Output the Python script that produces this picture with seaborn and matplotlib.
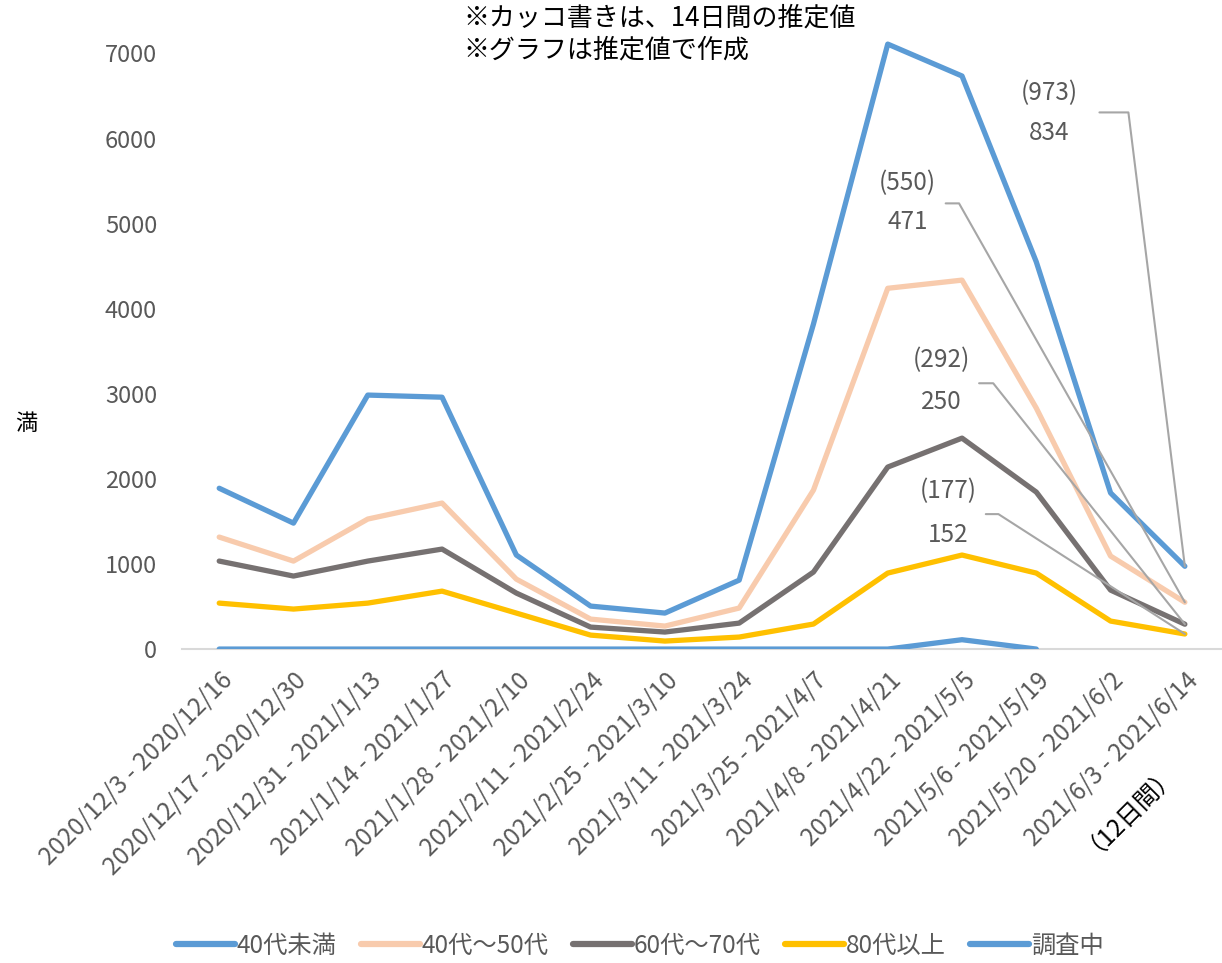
import pandas as pd
import matplotlib.pyplot as plt
import seaborn as sns

# period labels (x axis)
periods = [
    "2020/12/3 - 2020/12/16", "2020/12/17 - 2020/12/30", "2020/12/31 - 2021/1/13",
    "2021/1/14 - 2021/1/27", "2021/1/28 - 2021/2/10", "2021/2/11 - 2021/2/24",
    "2021/2/25 - 2021/3/10", "2021/3/11 - 2021/3/24", "2021/3/25 - 2021/4/7",
    "2021/4/8 - 2021/4/21", "2021/4/22 - 2021/5/5", "2021/5/6 - 2021/5/19",
    "2021/5/20 - 2021/6/2", "2021/6/3 - 2021/6/14",
]
last_note = "（12日間）"

under40 = [1890, 1480, 2985, 2960, 1105, 505, 423, 810, 3820, 7110, 6735, 4550, 1835, 973]
age40_50 = [1316, 1034, 1528, 1716, 822, 352, 270, 482, 1868, 4240, 4336, 2832, 1093, 550]
age60_70 = [1034, 858, 1034, 1175, 658, 258, 200, 305, 905, 2139, 2479, 1845, 693, 292]
over80 = [540, 470, 540, 681, 423, 164, 94, 141, 294, 893, 1105, 893, 329, 177]
unknown = [0, 0, 0, 0, 0, 0, 0, 0, 0, 0, 110, 0, None, None]

series_names = ["40代未満", "40代～50代", "60代～70代", "80代以上", "調査中"]
colors = ["#5B9BD5", "#F8CBAD", "#767171", "#FFC000", "#5B9BD5"]

# 14-day estimates (in brackets) and 12-day actual counts for the last period
est_values = [973, 550, 292, 177]
actual_values = [834, 471, 250, 152]

df = pd.DataFrame({"x": range(len(periods))})
for name, vals in zip(series_names, [under40, age40_50, age60_70, over80, unknown]):
    df[name] = vals
long_df = df.melt(id_vars="x", var_name="series", value_name="value").dropna()

sns.set_style("white")
plt.rcParams["font.family"] = ["Noto Sans CJK JP", "DejaVu Sans"]

fig = plt.figure(figsize=(12.22, 9.63), dpi=100)
ax = fig.add_axes([0.149, 0.326, 0.851, 0.645])

sns.lineplot(
    data=long_df, x="x", y="value", hue="series", hue_order=series_names,
    palette=dict(zip(series_names, colors)), linewidth=3.8, sort=False,
    ax=ax, solid_capstyle="round", solid_joinstyle="round",
)

ax.set_xlim(-0.5, len(periods) - 0.5)
ax.set_ylim(0, 7300)
ax.set_yticks(range(0, 7001, 1000))
ax.set_xticks(range(len(periods)))
ax.set_xticklabels(periods, rotation=45, ha="right", rotation_mode="anchor")
ax.tick_params(axis="both", length=0, labelcolor="#595959")
ax.tick_params(axis="y", pad=18, labelsize=17)
ax.tick_params(axis="x", pad=13, labelsize=17.5)
ax.set_xlabel("")
ax.set_ylabel("")
for side in ["top", "right", "left"]:
    ax.spines[side].set_visible(False)
ax.spines["bottom"].set_color("#D9D9D9")
ax.spines["bottom"].set_linewidth(1.5)
ax.spines["bottom"].set_zorder(0)

# second line of the last tick label, in black
ax.annotate(last_note, xy=(len(periods) - 1, 0), xycoords=("data", "axes fraction"),
            xytext=(-43, -112), textcoords="offset points", rotation=45,
            ha="center", va="center", fontsize=17.5, color="black")

# leader labels for the last period
last = len(periods) - 1
label_pos = [(11.17, 6530, 6060, 11.85, 12.24, 6307),
             (9.27, 5473, 5015, 9.78, 9.96, 5238),
             (9.72, 3394, 2901, 10.23, 10.42, 3124),
             (9.81, 1856, 1339, 10.32, 10.49, 1586)]
for est, act, (lx, ly1, ly2, ex0, ex1, ey) in zip(est_values, actual_values, label_pos):
    ax.text(lx, ly1, f"({est})", ha="center", va="center", fontsize=17.5, color="#595959")
    ax.text(lx, ly2, f"{act}", ha="center", va="center", fontsize=17.5, color="#595959")
    ax.plot([ex0, ex1, last], [ey, ey, est], color="#A6A6A6", linewidth=1.5, zorder=5)

fig.text(463 / 1222, 1 - 18 / 963, "※カッコ書きは、14日間の推定値", fontsize=18.7,
         ha="left", va="center", color="black")
fig.text(463 / 1222, 1 - 50 / 963, "※グラフは推定値で作成", fontsize=18.7,
         ha="left", va="center", color="black")
fig.text(15 / 1222, 1 - 423 / 963, "満", fontsize=16, ha="left", va="center", color="black")

handles, labels = ax.get_legend_handles_labels()
ax.get_legend().remove()
for h in handles:
    h.set_linewidth(4.5)
leg = fig.legend(handles, labels, loc="center", bbox_to_anchor=(640 / 1222, 1 - 946 / 963),
                 ncol=5, frameon=False, fontsize=17.5, handlelength=2.4,
                 handletextpad=0.1, columnspacing=1.0)
for t in leg.get_texts():
    t.set_color("#595959")

fig.savefig("out.png", dpi=100)
